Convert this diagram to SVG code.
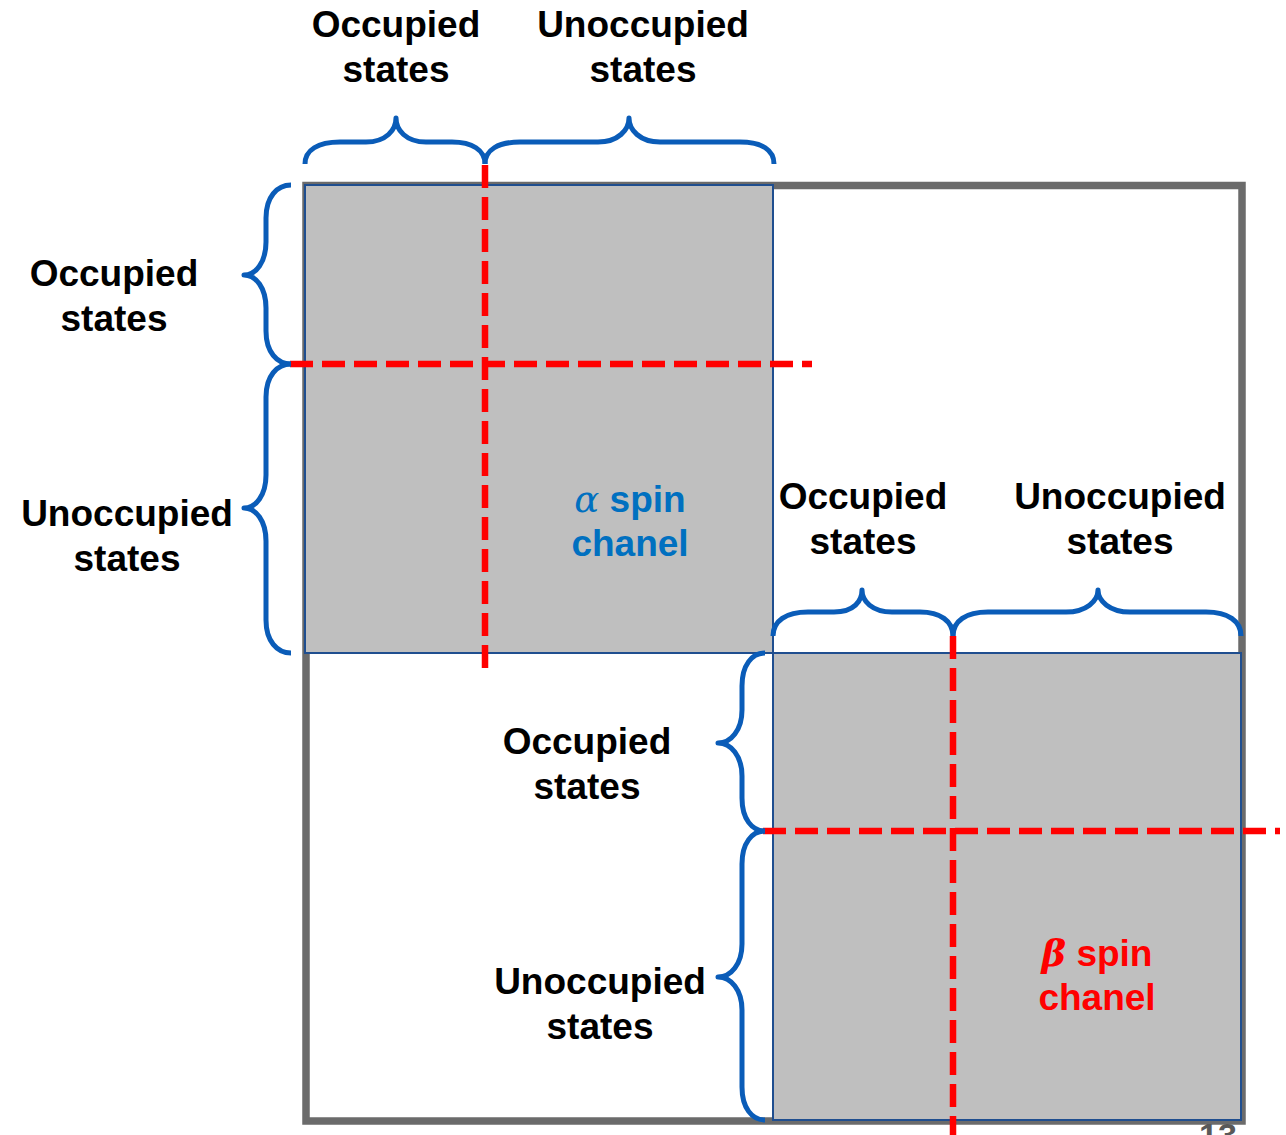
<svg xmlns="http://www.w3.org/2000/svg" width="1286" height="1135" viewBox="0 0 1286 1135">
<style>
.t{font-family:"Liberation Sans",Arial,sans-serif;font-weight:bold;font-size:37px;text-anchor:middle;fill:#000}
.brace{fill:none;stroke:#0a5cb8;stroke-width:5;stroke-linecap:butt;stroke-linejoin:round}
.dash{stroke:#ff0000;stroke-width:6.5;stroke-dasharray:23 9;fill:none}
.blk{fill:#bfbfbf;stroke:#1f4e8f;stroke-width:2}
.gr{font-family:"DejaVu Serif","Liberation Serif",serif;font-style:italic;font-weight:normal}
.grb{font-family:"DejaVu Serif","Liberation Serif",serif;font-style:italic;font-weight:bold}
</style>
<rect width="1286" height="1135" fill="#ffffff"/>
<g id="matrix">
<rect x="306" y="185.5" width="936" height="935.5" fill="#ffffff" stroke="#6b6b6b" stroke-width="7.5"/>
</g>
<g id="alpha-block">
<rect class="blk" x="305" y="185" width="468" height="468"/>
<text class="t" x="630" y="512" style="fill:#0070c0"><tspan class="gr">α</tspan> spin</text>
<text class="t" x="630" y="556" style="fill:#0070c0">chanel</text>
</g>
<g id="beta-block">
<rect class="blk" x="773" y="653" width="468" height="467"/>
<text class="t" x="1097" y="966" style="fill:#ff0000"><tspan class="grb">β</tspan> spin</text>
<text class="t" x="1097" y="1010" style="fill:#ff0000">chanel</text>
</g>
<g id="connectors">
<line class="dash" x1="485" y1="165" x2="485" y2="668"/>
<line class="dash" x1="290" y1="364" x2="812" y2="364"/>
<line class="dash" x1="953" y1="636" x2="953" y2="1135"/>
<line class="dash" x1="763" y1="831" x2="1280" y2="831"/>
</g>
<g id="brace-top-alpha">
<path class="brace" d="M305,164 C305,150 318,142 340,142 L366,142 C386,142 396,130 396,118 C396,130 406,142 426,142 L452,142 C472,142 485,150 485,164"/>
<path class="brace" d="M485,164 C485,150 498,142 520,142 L598,142 C618,142 629,130 629,118 C629,130 640,142 660,142 L740,142 C762,142 774,150 774,164"/>
<text class="t" x="396" y="37">Occupied</text>
<text class="t" x="396" y="82">states</text>
<text class="t" x="643" y="37">Unoccupied</text>
<text class="t" x="643" y="82">states</text>
</g>
<g id="brace-left-alpha">
<path class="brace" d="M291,185 C277,185 266,197 266,218 L266,242 C266,262 256,275 244,275 C256,275 266,288 266,308 L266,331 C266,352 277,364 291,364"/>
<path class="brace" d="M291,364 C277,364 266,376 266,397 L266,475 C266,495 256,508 244,508 C256,508 266,521 266,541 L266,620 C266,641 277,653 291,653"/>
<text class="t" x="114" y="286">Occupied</text>
<text class="t" x="114" y="331">states</text>
<text class="t" x="127" y="526">Unoccupied</text>
<text class="t" x="127" y="571">states</text>
</g>
<g id="brace-top-beta">
<path class="brace" d="M773,636 C773,621 786,612 808,612 L834,612 C854,612 862,601 862,590 C862,601 872,612 892,612 L920,612 C940,612 953,621 953,636"/>
<path class="brace" d="M953,636 C953,621 966,612 988,612 L1066,612 C1086,612 1098,601 1098,590 C1098,601 1110,612 1130,612 L1206,612 C1228,612 1241,621 1241,636"/>
<text class="t" x="863" y="509">Occupied</text>
<text class="t" x="863" y="554">states</text>
<text class="t" x="1120" y="509">Unoccupied</text>
<text class="t" x="1120" y="554">states</text>
</g>
<g id="brace-left-beta">
<path class="brace" d="M765,653 C752,653 742,665 742,686 L742,710 C742,730 731,743 718,743 C731,743 742,756 742,776 L742,798 C742,819 752,831 765,831"/>
<path class="brace" d="M765,831 C752,831 742,843 742,864 L742,944 C742,964 731,977 718,977 C731,977 742,990 742,1010 L742,1087 C742,1108 752,1120 765,1120"/>
<text class="t" x="587" y="754">Occupied</text>
<text class="t" x="587" y="799">states</text>
<text class="t" x="600" y="994">Unoccupied</text>
<text class="t" x="600" y="1039">states</text>
</g>
<text x="1199" y="1147" font-family="Liberation Sans,Arial,sans-serif" font-weight="bold" font-size="34" fill="#595959">13</text>
</svg>
